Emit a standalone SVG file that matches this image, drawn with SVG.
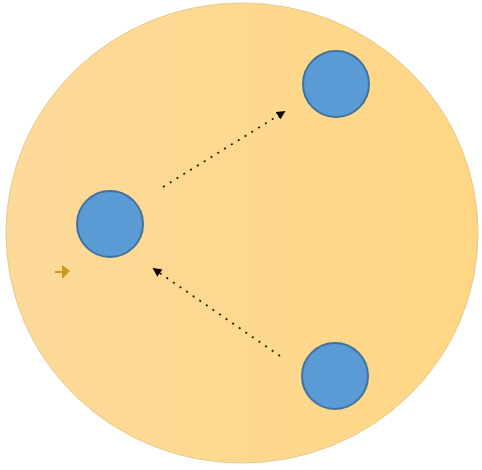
<svg xmlns="http://www.w3.org/2000/svg" width="482" height="470" viewBox="0 0 482 470">
<style>
.node{fill:#5b9bd5;stroke:#41719c;stroke-width:2}
.conn{stroke:#2a1a08;stroke-width:1.8;stroke-dasharray:2 6;fill:none}
</style>
<defs>
<linearGradient id="bg" x1="0" y1="0" x2="1" y2="0">
<stop offset="0" stop-color="#fdda9a"/>
<stop offset="1" stop-color="#fed684"/>
</linearGradient>
<marker id="ah" viewBox="0 0 10 10" refX="8" refY="5" markerWidth="5" markerHeight="5" orient="auto" markerUnits="strokeWidth">
<path d="M0,0 L10,5 L0,10 Z" fill="#120800"/>
</marker>
</defs>
<rect width="482" height="470" fill="#ffffff"/>
<g id="container">
<ellipse cx="242" cy="233" rx="236" ry="230" fill="url(#bg)" stroke="#e8c98c" stroke-width="1"/>
</g>
<g id="connectors">
<line class="conn" x1="163" y1="187" x2="284" y2="112" marker-end="url(#ah)"/>
<line class="conn" x1="280" y1="356" x2="154" y2="269" marker-end="url(#ah)"/>
</g>
<g id="node-top"><circle class="node" cx="336" cy="84" r="33"/></g>
<g id="node-left"><circle class="node" cx="110" cy="224" r="33"/></g>
<g id="node-bottom"><circle class="node" cx="335" cy="376" r="33"/></g>
<g id="pin">
<polygon points="55,271 62,271 62,265 70,271 62,279 62,273 55,273" fill="#c99a1c"/>
</g>
</svg>
